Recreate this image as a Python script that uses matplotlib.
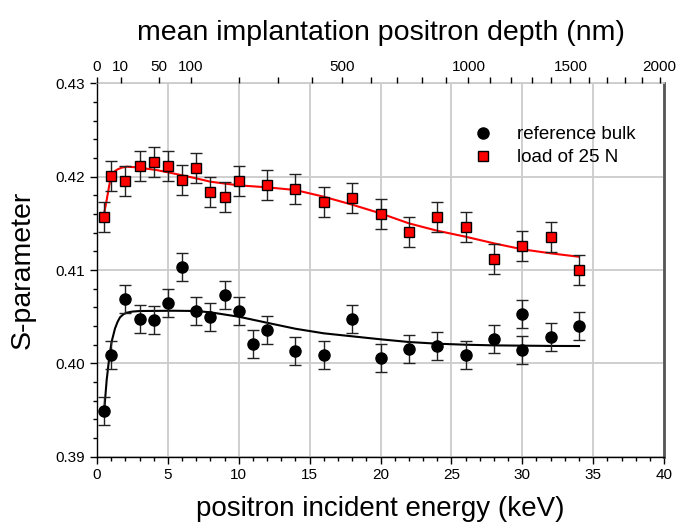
import numpy as np
import matplotlib.pyplot as plt
from matplotlib.lines import Line2D
from matplotlib.ticker import MultipleLocator, FixedLocator

plt.rcParams['font.family'] = ['Liberation Sans', 'DejaVu Sans']

# measured points: reference bulk
E_bulk = [0.5, 1, 2, 3, 4, 5, 6, 7, 8, 9, 10, 11, 12, 14, 16, 18, 20, 22, 24, 26, 28, 30, 30, 32, 34]
S_bulk = [0.39490, 0.40089, 0.40686, 0.40475, 0.40464, 0.40646, 0.41032, 0.40557, 0.40493,
          0.40732, 0.40561, 0.40207, 0.40357, 0.40136, 0.40086, 0.40475, 0.40061, 0.40150,
          0.40183, 0.40089, 0.40257, 0.40529, 0.40140, 0.40286, 0.40397]
err_bulk = 0.0015

# measured points: load of 25 N
E_load = [0.5, 1, 2, 3, 4, 5, 6, 7, 8, 9, 10, 12, 14, 16, 18, 20, 22, 24, 26, 28, 30, 32, 34]
S_load = [0.41565, 0.42010, 0.41957, 0.42114, 0.42157, 0.42114, 0.41964, 0.42093, 0.41836,
          0.41782, 0.41950, 0.41911, 0.41864, 0.41725, 0.41768, 0.41600, 0.41410, 0.41571,
          0.41457, 0.41121, 0.41257, 0.41350, 0.41000]
err_load = 0.0016

# fitted curves
E_fit_bulk = [0.49, 0.68, 0.87, 1.03, 1.27, 1.45, 1.62, 1.85, 2.09, 2.5, 3.0, 5.4, 7.0, 8.0,
              10, 12, 14, 16, 18, 20, 22, 24, 26, 28, 30, 32, 34]
S_fit_bulk = [0.39465, 0.39822, 0.40071, 0.40232, 0.40375, 0.40445, 0.40493, 0.40525, 0.40543,
              0.40555, 0.40561, 0.40564, 0.40561, 0.40547, 0.40500, 0.40435, 0.40371, 0.40322,
              0.40290, 0.40258, 0.40229, 0.40211, 0.40200, 0.40193, 0.40190, 0.40187, 0.40186]
E_fit_load = [0.44, 0.68, 0.91, 1.15, 1.30, 1.50, 1.75, 2.09, 2.79, 4.2, 5.6, 7.0, 8.0, 10, 12,
              14, 16, 18, 20, 22, 24, 26, 28, 30, 32, 34]
S_fit_load = [0.41554, 0.41750, 0.41946, 0.42036, 0.42064, 0.42082, 0.42097, 0.42107, 0.42100,
              0.42071, 0.42028, 0.41982, 0.41946, 0.41907, 0.41886, 0.41857, 0.41785, 0.41700,
              0.41607, 0.41500, 0.41421, 0.41357, 0.41286, 0.41222, 0.41179, 0.41142]

# top axis: mean implantation depth (nm)
depth_major = [0, 10, 50, 100, 500, 1000, 1500, 2000]
depth_minor = [200, 300, 400, 600, 700, 800, 900, 1100, 1200, 1300, 1400,
               1600, 1700, 1800, 1900]


def depth_to_energy(z):
    return (np.asarray(z, dtype=float) / 4.28) ** (1 / 1.67)


fig = plt.figure(figsize=(6.79, 5.25), dpi=100)
ax = fig.add_axes([0.1429, 0.130, 0.8351, 0.7113])

grid_col = '#cccccc'
ax.set_xlim(0, 40)
ax.set_ylim(0.39, 0.43)
ax.xaxis.set_major_locator(MultipleLocator(5))
ax.xaxis.set_minor_locator(MultipleLocator(1))
ax.yaxis.set_major_locator(MultipleLocator(0.01))
ax.yaxis.set_minor_locator(MultipleLocator(0.002))
ax.grid(True, which='major', color=grid_col, linewidth=1.3, zorder=0)
ax.set_axisbelow(True)

ax.plot(E_fit_load, S_fit_load, color='red', lw=1.5, zorder=2)
ax.plot(E_fit_bulk, S_fit_bulk, color='black', lw=1.5, zorder=2)

ax.errorbar(E_bulk, S_bulk, yerr=err_bulk, fmt='o', color='black', ms=8,
            ecolor='#222222', elinewidth=1, capsize=4, capthick=1, zorder=3)
ax.errorbar(E_load, S_load, yerr=err_load, fmt='s', mfc='red', mec='black', mew=1,
            ms=7, ecolor='#222222', elinewidth=1, capsize=4, capthick=1, zorder=4)

ax.set_yticks([0.39, 0.40, 0.41, 0.42, 0.43])
ax.set_yticklabels(['0.39', '0.40', '0.41', '0.42', '0.43'])
ax.tick_params(which='major', direction='out', length=5, width=1, labelsize=11)
ax.tick_params(which='minor', direction='out', length=3, width=1)
ax.tick_params(axis='x', pad=3)

for s in ['left', 'bottom']:
    ax.spines[s].set_color('black')
    ax.spines[s].set_linewidth(1)
ax.spines['right'].set_color('#555555')
ax.spines['right'].set_linewidth(2)
ax.spines['top'].set_color(grid_col)
ax.spines['top'].set_linewidth(1.3)

ax.set_xlabel('positron incident energy (keV)', fontsize=20, labelpad=10)
ax.set_ylabel('S-parameter', fontsize=20.5, labelpad=14)

ax2 = ax.twiny()
ax2.set_xlim(0, 40)
ax2.xaxis.set_major_locator(FixedLocator(depth_to_energy(depth_major)))
ax2.set_xticklabels([str(d) for d in depth_major])
ax2.xaxis.set_minor_locator(FixedLocator(depth_to_energy(depth_minor)))
ax2.tick_params(which='both', direction='out', length=4, width=1, labelsize=11, pad=3)
for s in ax2.spines.values():
    s.set_visible(False)
ax2.set_xlabel('mean implantation positron depth (nm)', fontsize=20.5, labelpad=14)

handles = [Line2D([], [], ls='none', marker='o', color='black', ms=8),
           Line2D([], [], ls='none', marker='s', mfc='red', mec='black', mew=1, ms=7)]
ax.legend(handles, ['reference bulk', 'load of 25 N'], loc='upper left',
          bbox_to_anchor=(0.635, 0.93), frameon=False, fontsize=13.5,
          handlelength=1.0, handletextpad=1.28, labelspacing=0.3)

fig.savefig('out.png', dpi=100)
